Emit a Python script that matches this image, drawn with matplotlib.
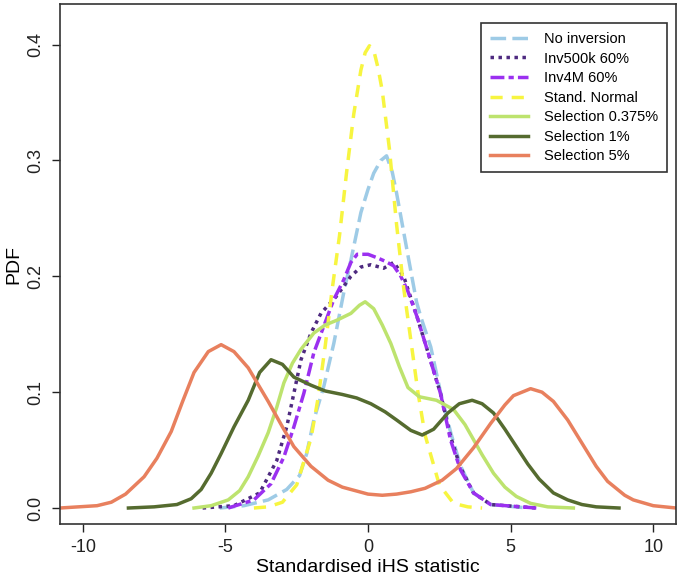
import matplotlib
matplotlib.use("Agg")
import matplotlib.pyplot as plt

# values
labels = ["No inversion", "Inv500k 60%", "Inv4M 60%", "Stand. Normal",
          "Selection 0.375%", "Selection 1%", "Selection 5%"]

x_noinv = [-5.2, -4.35, -3.5, -2.85, -2.4, -2.15, -1.9, -1.55, -1.2, -0.85, -0.6, -0.25,
           0.0, 0.2, 0.45, 0.65, 0.85, 1.0, 1.2, 1.4, 1.7, 1.85, 2.2, 2.55, 2.9, 3.25, 3.7,
           4.3, 5.6]
y_noinv = [0.0, 0.002, 0.007, 0.016, 0.028, 0.047, 0.076, 0.105, 0.142, 0.186, 0.214, 0.255,
           0.275, 0.289, 0.300, 0.304, 0.290, 0.272, 0.245, 0.218, 0.178, 0.165, 0.139, 0.099,
           0.065, 0.036, 0.013, 0.003, 0.0]

x_inv500k = [-5.8, -4.7, -3.8, -3.2, -2.85, -2.6, -2.35, -2.0, -1.65, -1.1, -0.6, -0.25,
             0.1, 0.55, 0.9, 1.25, 1.72, 2.07, 2.54, 2.89, 3.24, 3.7, 4.3, 5.9]
y_inv500k = [0.0, 0.002, 0.013, 0.041, 0.070, 0.099, 0.128, 0.151, 0.168, 0.183, 0.200, 0.208,
             0.210, 0.207, 0.212, 0.200, 0.165, 0.137, 0.099, 0.062, 0.035, 0.013, 0.003, 0.0]

x_inv4m = [-4.9, -4.0, -3.4, -2.95, -2.6, -2.25, -1.9, -1.55, -1.2, -0.85, -0.6, -0.38, 0.0,
           0.32, 0.6, 0.9, 1.15, 1.4, 1.72, 2.07, 2.54, 2.89, 3.24, 3.7, 4.3, 5.9]
y_inv4m = [0.0, 0.007, 0.021, 0.044, 0.070, 0.099, 0.134, 0.157, 0.180, 0.197, 0.212, 0.219,
           0.219, 0.216, 0.213, 0.209, 0.200, 0.187, 0.165, 0.137, 0.099, 0.059, 0.033, 0.013,
           0.003, 0.0]

x_norm = [-4, -3.5, -3, -2.5, -2, -1.75, -1.5, -1.25, -1, -0.75, -0.5, -0.25, -0.1, 0.05,
          0.2, 0.35, 0.5, 0.75, 1, 1.25, 1.5, 1.75, 2, 2.5, 3, 3.5, 4]
y_norm = [0.0, 0.001, 0.005, 0.02, 0.06, 0.095, 0.14, 0.19, 0.235, 0.29, 0.34, 0.378, 0.393,
          0.399, 0.395, 0.38, 0.36, 0.31, 0.245, 0.19, 0.145, 0.10, 0.063, 0.02, 0.004, 0.001,
          0.0]

x_sel0375 = [-6.1, -5.5, -4.9, -4.5, -4.2, -3.85, -3.5, -3.2, -2.95, -2.65, -2.35, -1.9, -1.5,
             -1.1, -0.6, -0.3, -0.1, 0.2, 0.5, 0.8, 1.1, 1.4, 1.8, 2.4, 3.0, 3.4, 3.7, 4.0,
             4.4, 4.8, 5.2, 5.7, 6.3, 7.2]
y_sel0375 = [0.0, 0.002, 0.007, 0.015, 0.027, 0.045, 0.065, 0.087, 0.108, 0.125, 0.137, 0.151,
             0.158, 0.162, 0.168, 0.175, 0.178, 0.172, 0.158, 0.142, 0.122, 0.104, 0.096, 0.093,
             0.085, 0.072, 0.059, 0.046, 0.03, 0.018, 0.010, 0.004, 0.001, 0.0]

x_sel1 = [-8.4, -7.5, -6.7, -6.2, -5.85, -5.5, -5.15, -4.7, -4.2, -3.8, -3.4, -3.0, -2.6, -2.0,
          -1.5, -0.9, -0.4, 0.1, 0.6, 1.0, 1.5, 1.9, 2.3, 2.8, 3.2, 3.65, 4.0, 4.4, 4.8, 5.2,
          5.6, 6.0, 6.5, 7.0, 7.5, 8.0, 8.8]
y_sel1 = [0.0, 0.001, 0.003, 0.008, 0.016, 0.03, 0.047, 0.07, 0.093, 0.117, 0.128, 0.124,
          0.113, 0.106, 0.101, 0.098, 0.095, 0.09, 0.083, 0.076, 0.067, 0.063, 0.068, 0.082,
          0.09, 0.093, 0.09, 0.082, 0.068, 0.053, 0.038, 0.025, 0.013, 0.007, 0.003, 0.001, 0.0]

x_sel5 = [-10.8, -9.5, -9.0, -8.5, -7.85, -7.4, -6.9, -6.5, -6.1, -5.6, -5.15, -4.7, -4.2,
          -3.5, -3.0, -2.6, -2.0, -1.4, -0.9, 0.0, 0.5, 1.0, 1.5, 2.0, 2.6, 3.1, 3.7, 4.3,
          4.8, 5.1, 5.7, 6.1, 6.5, 7.0, 7.45, 8.0, 8.4, 9.0, 9.3, 10.0, 10.8]
y_sel5 = [0.0, 0.002, 0.005, 0.012, 0.027, 0.043, 0.066, 0.092, 0.117, 0.135, 0.141, 0.135,
          0.121, 0.092, 0.07, 0.053, 0.036, 0.024, 0.018, 0.012, 0.011, 0.012, 0.014, 0.017,
          0.024, 0.034, 0.052, 0.073, 0.089, 0.097, 0.103, 0.100, 0.092, 0.076, 0.058, 0.036,
          0.023, 0.011, 0.007, 0.002, 0.0]

plt.rcParams['font.family'] = ['Liberation Sans', 'DejaVu Sans']
plt.rcParams['axes.unicode_minus'] = False
plt.rcParams['lines.solid_joinstyle'] = 'round'
plt.rcParams['lines.dash_joinstyle'] = 'round'

fig = plt.figure(figsize=(6.8, 5.79), dpi=100)
ax = fig.add_axes([0.0882, 0.095, 0.906, 0.898])

lw = 2.5
ax.plot(x_noinv, y_noinv, color="#9ecbe6", lw=lw, ls=(0, (4.5, 1.8)), label=labels[0])
ax.plot(x_inv500k, y_inv500k, color="#4e2a80", lw=lw, ls=(0, (1, 1.3)), label=labels[1])
ax.plot(x_inv4m, y_inv4m, color="#9b30f0", lw=lw, ls=(0, (4, 1.2, 1.5, 1.2)), label=labels[2])
ax.plot(x_norm, y_norm, color="#f7f540", lw=lw, ls=(0, (3.5, 2.6)), label=labels[3])
ax.plot(x_sel0375, y_sel0375, color="#bde36e", lw=lw, label=labels[4])
ax.plot(x_sel1, y_sel1, color="#556b2f", lw=lw, label=labels[5])
ax.plot(x_sel5, y_sel5, color="#e8805e", lw=lw, label=labels[6])

ax.set_xlim(-10.8, 10.8)
ax.set_ylim(-0.0138, 0.435)
ax.set_xticks([-10, -5, 0, 5, 10])
ax.set_yticks([0.0, 0.1, 0.2, 0.3, 0.4])
ax.set_yticklabels(["0.0", "0.1", "0.2", "0.3", "0.4"], rotation=90, va="center")
ax.tick_params(direction="out", length=6, width=1, labelsize=13, colors="#222222", pad=5)
for s in ax.spines.values():
    s.set_color("#333333")
    s.set_linewidth(1.2)

ax.set_xlabel("Standardised iHS statistic", fontsize=14, labelpad=2)
ax.set_ylabel("PDF", fontsize=14, labelpad=4)

leg = ax.legend(loc="upper right", bbox_to_anchor=(0.985, 0.963), borderaxespad=0,
                fontsize=10.5, handlelength=2.6, labelspacing=0.38, fancybox=False,
                framealpha=1, edgecolor="#333333", borderpad=0.6, handletextpad=1.1)
leg.get_frame().set_linewidth(1.2)

fig.savefig("out.png", dpi=100)
